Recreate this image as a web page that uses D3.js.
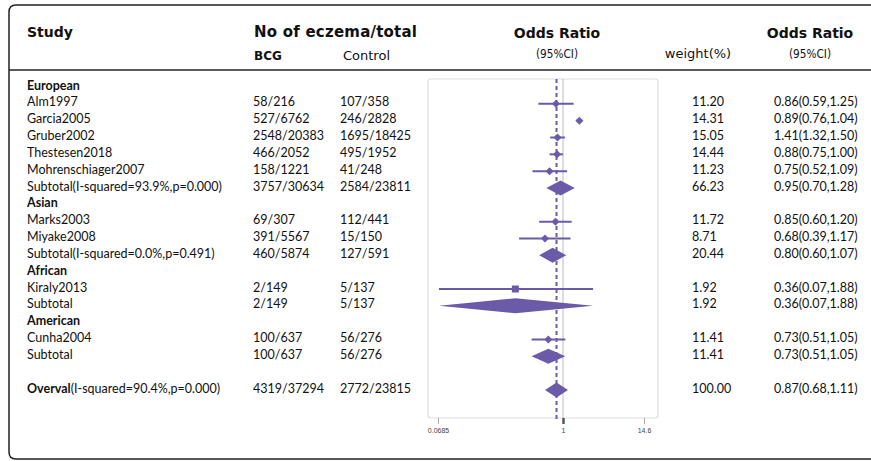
<!DOCTYPE html>
<html>
<head>
<meta charset="utf-8">
<script src="https://cdn.jsdelivr.net/npm/d3@7"></script>
<style>
  body { margin: 0; background: #fff; }
  svg text { font-family: Lato, "Open Sans", sans-serif; fill: #111; }
  .hdr { font-family: "DejaVu Sans", sans-serif; font-weight: bold; font-size: 14px; }
  .sub { font-family: "DejaVu Sans", sans-serif; font-size: 13px; }
  .body { font-size: 12.5px; }
  .tick text { font-family: "Liberation Sans", sans-serif; font-size: 7px; fill: #444; }
</style>
</head>
<body>
<div id="chart"></div>
<script>
// rows of the table, top to bottom (type: g = group header, s = study, t = subtotal, o = overall)
const rowType  = ["g","s","s","s","s","s","t","g","s","s","t","g","s","t","g","s","t","o"];
const rowIndex = [0,1,2,3,4,5,6,7,8,9,10,11,12,13,14,15,16,18];
const rowLabel = ["European","Alm1997","Garcia2005","Gruber2002","Thestesen2018","Mohrenschiager2007",
  "Subtotal(I-squared=93.9%,p=0.000)","Asian","Marks2003","Miyake2008","Subtotal(I-squared=0.0%,p=0.491)",
  "African","Kiraly2013","Subtotal","American","Cunha2004","Subtotal","(I-squared=90.4%,p=0.000)"];
const bcg     = ["","58/216","527/6762","2548/20383","466/2052","158/1221","3757/30634","","69/307","391/5567","460/5874","","2/149","2/149","","100/637","100/637","4319/37294"];
const control = ["","107/358","246/2828","1695/18425","495/1952","41/248","2584/23811","","112/441","15/150","127/591","","5/137","5/137","","56/276","56/276","2772/23815"];
const weight  = ["","11.20","14.31","15.05","14.44","11.23","66.23","","11.72","8.71","20.44","","1.92","1.92","","11.41","11.41","100.00"];
const orText  = ["","0.86(0.59,1.25)","0.89(0.76,1.04)","1.41(1.32,1.50)","0.88(0.75,1.00)","0.75(0.52,1.09)","0.95(0.70,1.28)",
  "","0.85(0.60,1.20)","0.68(0.39,1.17)","0.80(0.60,1.07)","","0.36(0.07,1.88)","0.36(0.07,1.88)","","0.73(0.51,1.05)","0.73(0.51,1.05)","0.87(0.68,1.11)"];
// values as plotted in the figure (rows 2 and 3 appear swapped in the plot)
const est = [null,0.86,1.41,0.89,0.88,0.75,0.95,null,0.85,0.68,0.80,null,0.36,0.36,null,0.73,0.73,0.87];
const lo  = [null,0.59,1.32,0.76,0.75,0.52,0.70,null,0.60,0.39,0.60,null,0.07,0.07,null,0.51,0.51,0.68];
const hi  = [null,1.25,1.50,1.04,1.00,1.09,1.28,null,1.20,1.17,1.07,null,1.88,1.88,null,1.05,1.05,1.11];
const axisTicks = [0.0685, 1, 14.6];
const overallOR = 0.87;

const W = 871, H = 461;
const purple = "#6b5aa8";

const svg = d3.select("#chart").append("svg")
  .attr("width", W).attr("height", H);

// frame
svg.append("path")
  .attr("d", `M${W+5},5 H16 Q9,5 9,12 V452 Q9,459 16,459 H${W+5}`)
  .attr("fill", "none").attr("stroke", "#222").attr("stroke-width", 1.5);
svg.append("line").attr("x1", 9).attr("x2", W).attr("y1", 70).attr("y2", 70)
  .attr("stroke", "#222").attr("stroke-width", 1.5);

// headers
svg.append("text").attr("class","hdr").attr("x",27).attr("y",37).text("Study");
svg.append("text").attr("class","hdr").attr("x",254).attr("y",37).style("font-size","15px")
  .attr("textLength",163).attr("lengthAdjust","spacing").text("No of eczema/total");
svg.append("text").attr("class","hdr").attr("x",254).attr("y",60).style("font-size","12px").text("BCG");
svg.append("text").attr("class","sub").attr("x",343).attr("y",60).text("Control");
svg.append("text").attr("class","hdr").attr("x",557).attr("y",38).attr("text-anchor","middle").text("Odds Ratio");
svg.append("text").attr("class","sub").attr("x",557).attr("y",58).attr("text-anchor","middle")
  .attr("textLength",42).attr("lengthAdjust","spacingAndGlyphs").text("(95%CI)");
svg.append("text").attr("class","sub").attr("x",698).attr("y",58).attr("text-anchor","middle").text("weight(%)");
svg.append("text").attr("class","hdr").attr("x",810).attr("y",38).attr("text-anchor","middle").text("Odds Ratio");
svg.append("text").attr("class","sub").attr("x",810).attr("y",58).attr("text-anchor","middle")
  .attr("textLength",42).attr("lengthAdjust","spacingAndGlyphs").text("(95%CI)");

// scales
const y = d3.scaleLinear().domain([0, 18]).range([85, 388]);
const x = d3.scaleLog().domain([0.0685, 1, 2, 14.6]).range([438, 563, 596, 644]);

const rows = rowType.map((t, i) => ({
  type: t, idx: rowIndex[i], label: rowLabel[i], bcg: bcg[i], control: control[i],
  weight: weight[i], orText: orText[i], est: est[i], lo: lo[i], hi: hi[i]
}));

// table text
const tg = svg.append("g").attr("class","body");
rows.forEach(r => {
  const yy = y(r.idx) + 4.5;
  const t = tg.append("text").attr("x", 27).attr("y", yy);
  if (r.type === "g") t.style("font-weight","bold").text(r.label);
  else if (r.type === "o") {
    t.append("tspan").style("font-weight","bold").text("Overval");
    t.append("tspan").text(r.label);
  } else t.text(r.label);
  tg.append("text").attr("x", 253).attr("y", yy).text(r.bcg);
  tg.append("text").attr("x", 340).attr("y", yy).text(r.control);
  tg.append("text").attr("x", 692).attr("y", yy).text(r.weight);
  tg.append("text").attr("x", 774).attr("y", yy).text(r.orText);
});

// plot box
const boxTop = 79, boxBot = 418;
svg.append("rect").attr("x", 428).attr("y", boxTop).attr("width", 230).attr("height", boxBot - boxTop)
  .attr("rx", 3).attr("fill", "none").attr("stroke", "#ddd").attr("stroke-width", 1.2);

// axis
const axis = svg.append("g").attr("transform", `translate(0,${boxBot})`)
  .call(d3.axisBottom(x).tickValues(axisTicks).tickFormat(d => d).tickSize(6).tickPadding(4));
axis.select(".domain").remove();
axis.selectAll(".tick line").attr("stroke", "#aaa");
axis.selectAll(".tick").filter(d => d === 1).select("line").attr("stroke", "#555").attr("stroke-width", 2.5);

// reference line at 1
svg.append("line").attr("x1", x(1)).attr("x2", x(1)).attr("y1", boxTop).attr("y2", boxBot)
  .attr("stroke", "#bbb").attr("stroke-width", 1);

// overall dashed line
svg.append("line").attr("x1", x(overallOR)).attr("x2", x(overallOR)).attr("y1", boxTop).attr("y2", boxBot + 4)
  .attr("stroke", purple).attr("stroke-width", 2).attr("stroke-dasharray", "4,3");

// study CIs and markers
const studies = rows.filter(r => r.type === "s");
svg.selectAll(".ci").data(studies).enter().append("line")
  .attr("x1", d => x(d.lo)).attr("x2", d => x(d.hi))
  .attr("y1", d => y(d.idx) + 2).attr("y2", d => y(d.idx) + 2)
  .attr("stroke", purple).attr("stroke-width", 2);
svg.selectAll(".pt").data(studies).enter().append("path")
  .attr("d", d => {
    const cx = x(d.est), cy = y(d.idx) + 2;
    if (d.label === "Kiraly2013") return `M${cx-3.5},${cy-3.5}h7v7h-7Z`;
    const s = 4;
    return `M${cx},${cy-s} L${cx+s},${cy} L${cx},${cy+s} L${cx-s},${cy} Z`;
  })
  .attr("fill", purple);

// pooled diamonds
const pooled = rows.filter(r => r.type === "t" || r.type === "o");
svg.selectAll(".dia").data(pooled).enter().append("path")
  .attr("d", d => {
    const cy = y(d.idx) + 2, h = 7.5;
    return `M${x(d.lo)},${cy} L${x(d.est)},${cy-h} L${x(d.hi)},${cy} L${x(d.est)},${cy+h} Z`;
  })
  .attr("fill", purple);
</script>
</body>
</html>
